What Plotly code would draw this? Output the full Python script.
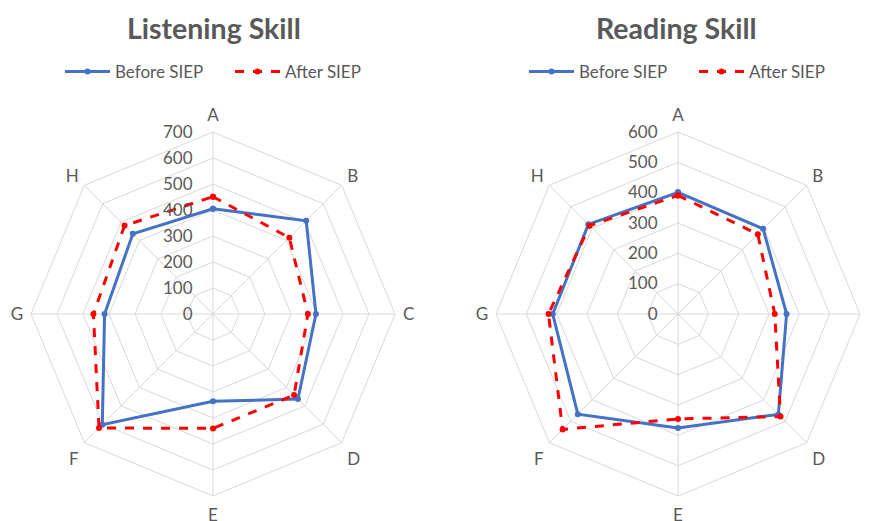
import plotly.graph_objects as go

categories = ["A", "B", "C", "D", "E", "F", "G", "H"]

listening_before = [405, 507, 396, 462, 336, 602, 417, 436]
listening_after = [451, 415, 365, 441, 440, 620, 460, 481]

reading_before = [401, 397, 358, 468, 376, 467, 413, 418]
reading_after = [391, 372, 319, 478, 346, 538, 427, 412]

series_names = ["Before SIEP", "After SIEP"]
titles = ["Listening Skill", "Reading Skill"]

BLUE = "#4472C4"
RED = "#FF0000"
GRAY = "#595959"
GRID = "#d9d9d9"
FONT = "Lato"


def closed(vals):
    return list(vals) + [vals[0]]


theta = closed(categories)

fig = go.Figure()

for i, (before, after, polar, legend) in enumerate([
    (listening_before, listening_after, "polar", "legend"),
    (reading_before, reading_after, "polar2", "legend2"),
]):
    fig.add_trace(go.Scatterpolar(
        r=closed(before), theta=theta, mode="lines+markers",
        name=series_names[0], subplot=polar, legend=legend,
        line=dict(color=BLUE, width=3),
        marker=dict(color=BLUE, size=6),
    ))
    fig.add_trace(go.Scatterpolar(
        r=closed(after), theta=theta, mode="lines+markers",
        name=series_names[1], subplot=polar, legend=legend,
        line=dict(color=RED, width=3, dash="dash"),
        marker=dict(color=RED, size=6),
    ))


def polar_layout(xdom, ydom, rmax):
    return dict(
        domain=dict(x=xdom, y=ydom),
        bgcolor="white",
        gridshape="linear",
        radialaxis=dict(
            range=[0, rmax], dtick=100, angle=90, tickangle=90,
            side="counterclockwise",
            showline=False, gridcolor=GRID, gridwidth=1,
            ticks="outside", ticklen=14, tickcolor="rgba(0,0,0,0)",
            tickfont=dict(size=17, color=GRAY, family=FONT),
        ),
        angularaxis=dict(
            categoryorder="array", categoryarray=categories,
            direction="clockwise", rotation=90,
            showline=True, linecolor=GRID, gridcolor=GRID,
            ticks="outside", ticklen=4, tickcolor="rgba(0,0,0,0)",
            tickfont=dict(size=17, color=GRAY, family=FONT),
        ),
    )


W, H = 876, 521
legend_common = dict(orientation="h", xanchor="center", y=1 - 64 / H, yanchor="middle",
                     itemwidth=45, entrywidth=110,
                     font=dict(size=17, color=GRAY), bgcolor="rgba(0,0,0,0)")
fig.update_layout(
    width=W, height=H,
    margin=dict(l=0, r=0, t=0, b=0, autoexpand=False),
    paper_bgcolor="white",
    font=dict(family=FONT, color=GRAY),
    polar=polar_layout([23 / W, 387 / W], [33 / H, 397 / H], 700),
    polar2=polar_layout([488 / W, 852 / W], [33 / H, 397 / H], 600),
    legend=dict(x=222 / W, **legend_common),
    legend2=dict(x=686 / W, **legend_common),
    annotations=[
        dict(text="<b>%s</b>" % titles[0], x=206 / W, y=1 - 20 / H, xref="paper", yref="paper",
             showarrow=False, font=dict(size=28.5, color=GRAY, family=FONT), xanchor="center", yanchor="middle"),
        dict(text="<b>%s</b>" % titles[1], x=668 / W, y=1 - 20 / H, xref="paper", yref="paper",
             showarrow=False, font=dict(size=28.5, color=GRAY, family=FONT), xanchor="center", yanchor="middle"),
    ],
)

fig.write_html("out.html")
